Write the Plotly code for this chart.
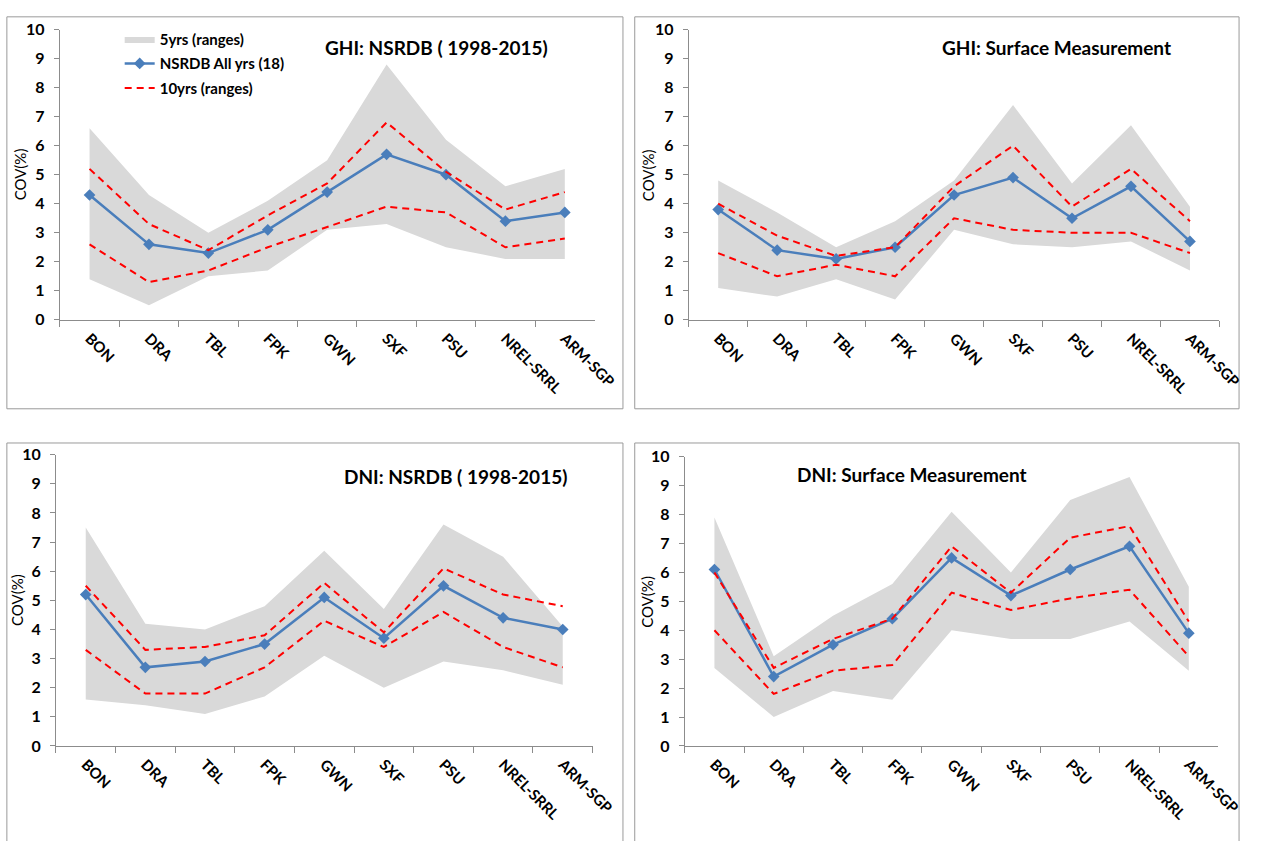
import plotly.graph_objects as go

stations = ["BON", "DRA", "TBL", "FPK", "GWN", "SXF", "PSU", "NREL-SRRL", "ARM-SGP"]

# GHI: NSRDB (1998-2015)
ghi_nsrdb_5yr_max = [6.6, 4.3, 3.0, 4.1, 5.5, 8.8, 6.2, 4.6, 5.2]
ghi_nsrdb_5yr_min = [1.4, 0.5, 1.5, 1.7, 3.1, 3.3, 2.5, 2.1, 2.1]
ghi_nsrdb_all = [4.3, 2.6, 2.3, 3.1, 4.4, 5.7, 5.0, 3.4, 3.7]
ghi_nsrdb_10yr_max = [5.2, 3.3, 2.4, 3.6, 4.7, 6.8, 5.1, 3.8, 4.4]
ghi_nsrdb_10yr_min = [2.6, 1.3, 1.7, 2.5, 3.2, 3.9, 3.7, 2.5, 2.8]

# GHI: Surface Measurement
ghi_surf_5yr_max = [4.8, 3.7, 2.5, 3.4, 4.8, 7.4, 4.7, 6.7, 3.9]
ghi_surf_5yr_min = [1.1, 0.8, 1.4, 0.7, 3.1, 2.6, 2.5, 2.7, 1.7]
ghi_surf_all = [3.8, 2.4, 2.1, 2.5, 4.3, 4.9, 3.5, 4.6, 2.7]
ghi_surf_10yr_max = [4.0, 2.9, 2.2, 2.5, 4.6, 6.0, 3.9, 5.2, 3.4]
ghi_surf_10yr_min = [2.3, 1.5, 1.9, 1.5, 3.5, 3.1, 3.0, 3.0, 2.3]

# DNI: NSRDB (1998-2015)
dni_nsrdb_5yr_max = [7.5, 4.2, 4.0, 4.8, 6.7, 4.7, 7.6, 6.5, 4.1]
dni_nsrdb_5yr_min = [1.6, 1.4, 1.1, 1.7, 3.1, 2.0, 2.9, 2.6, 2.1]
dni_nsrdb_all = [5.2, 2.7, 2.9, 3.5, 5.1, 3.7, 5.5, 4.4, 4.0]
dni_nsrdb_10yr_max = [5.5, 3.3, 3.4, 3.8, 5.6, 3.9, 6.1, 5.2, 4.8]
dni_nsrdb_10yr_min = [3.3, 1.8, 1.8, 2.7, 4.3, 3.4, 4.6, 3.4, 2.7]

# DNI: Surface Measurement
dni_surf_5yr_max = [7.9, 3.1, 4.5, 5.6, 8.1, 6.0, 8.5, 9.3, 5.5]
dni_surf_5yr_min = [2.7, 1.0, 1.9, 1.6, 4.0, 3.7, 3.7, 4.3, 2.6]
dni_surf_all = [6.1, 2.4, 3.5, 4.4, 6.5, 5.2, 6.1, 6.9, 3.9]
dni_surf_10yr_max = [6.0, 2.7, 3.7, 4.4, 6.9, 5.3, 7.2, 7.6, 4.3]
dni_surf_10yr_min = [4.0, 1.8, 2.6, 2.8, 5.3, 4.7, 5.1, 5.4, 3.1]

titles = ["GHI: NSRDB ( 1998-2015)", "GHI: Surface Measurement",
          "DNI: NSRDB ( 1998-2015)", "DNI: Surface Measurement"]
legend_names = ["5yrs (ranges)", "NSRDB All yrs (18)", "10yrs (ranges)"]
y_title = "COV(%)"

W, H = 1266, 841
FONT = "Lato"
GREY = "#d9d9d9"
BLUE = "#4a7ebb"
RED = "#ff0000"
AXIS = "#8c8c8c"


def fx(p):
    return p / W


def fy(p):
    return 1 - p / H


panels = [
    dict(data=(ghi_nsrdb_5yr_min, ghi_nsrdb_5yr_max, ghi_nsrdb_all, ghi_nsrdb_10yr_max, ghi_nsrdb_10yr_min),
         xd=(61, 606), yd=(20, 317), box=(7, 635, 7, 408), title_xy=(445, 38), ytitle_x=20),
    dict(data=(ghi_surf_5yr_min, ghi_surf_5yr_max, ghi_surf_all, ghi_surf_10yr_max, ghi_surf_10yr_min),
         xd=(702, 1243), yd=(20, 317), box=(647, 1263, 7, 408), title_xy=(1077, 38), ytitle_x=660),
    dict(data=(dni_nsrdb_5yr_min, dni_nsrdb_5yr_max, dni_nsrdb_all, dni_nsrdb_10yr_max, dni_nsrdb_10yr_min),
         xd=(57, 604), yd=(455, 753), box=(7, 635, 443, 860), title_xy=(464, 477), ytitle_x=18),
    dict(data=(dni_surf_5yr_min, dni_surf_5yr_max, dni_surf_all, dni_surf_10yr_max, dni_surf_10yr_min),
         xd=(698, 1242), yd=(457, 753), box=(647, 1263, 443, 860), title_xy=(930, 475), ytitle_x=660),
]

fig = go.Figure()
shapes = []
annotations = []
layout_axes = {}

for i, p in enumerate(panels):
    suf = "" if i == 0 else str(i + 1)
    xa, ya = "x" + suf, "y" + suf
    lo5, hi5, allv, hi10, lo10 = p["data"]
    first = i == 0

    fig.add_trace(go.Scatter(x=stations, y=lo5, mode="lines", line=dict(width=0, color="rgba(0,0,0,0)"),
                             showlegend=False, hoverinfo="skip", xaxis=xa, yaxis=ya))
    fig.add_trace(go.Scatter(x=stations, y=hi5, mode="lines", fill="tonexty", fillcolor=GREY,
                             line=dict(width=0, color=GREY), name=legend_names[0], legendgroup="a",
                             showlegend=first, xaxis=xa, yaxis=ya))
    fig.add_trace(go.Scatter(x=stations, y=allv, mode="lines+markers",
                             line=dict(width=2.5, color=BLUE),
                             marker=dict(symbol="diamond", size=9, color=BLUE),
                             name=legend_names[1], legendgroup="b", showlegend=first, xaxis=xa, yaxis=ya))
    fig.add_trace(go.Scatter(x=stations, y=hi10, mode="lines", line=dict(width=2, color=RED, dash="7px,5px"),
                             name=legend_names[2], legendgroup="c", showlegend=first, xaxis=xa, yaxis=ya))
    fig.add_trace(go.Scatter(x=stations, y=lo10, mode="lines", line=dict(width=2, color=RED, dash="7px,5px"),
                             showlegend=False, legendgroup="c", xaxis=xa, yaxis=ya))

    layout_axes["xaxis" + suf] = dict(
        domain=[fx(p["xd"][0]), fx(p["xd"][1])], anchor=ya, type="category",
        categoryorder="array", categoryarray=stations, range=[-0.5, 8.5],
        showline=True, linecolor=AXIS, linewidth=1, ticks="outside", tickson="boundaries",
        ticklen=6, tickcolor=AXIS, tickangle=45, showgrid=False, zeroline=False,
        ticklabelstandoff=3,
        tickfont=dict(family=FONT, size=15, color="black", weight="bold"))
    layout_axes["yaxis" + suf] = dict(
        domain=[fy(p["yd"][1]), fy(p["yd"][0])], anchor=xa, range=[0, 10], dtick=1,
        showline=True, linecolor=AXIS, linewidth=1, ticks="outside", ticklen=5, tickcolor=AXIS,
        showgrid=False, zeroline=False, ticklabelstandoff=6,
        tickfont=dict(family=FONT, size=16, color="black", weight="bold"))

    bx0, bx1, by0, by1 = p["box"]
    shapes.append(dict(type="rect", xref="paper", yref="paper", x0=fx(bx0), x1=fx(bx1), y0=fy(by1), y1=fy(by0),
                       line=dict(color="#9a9a9a", width=1), fillcolor="rgba(0,0,0,0)", layer="below"))
    tx, ty = p["title_xy"]
    annotations.append(dict(text=titles[i], xref="paper", yref="paper", x=fx(tx), y=fy(ty),
                            xanchor="center", yanchor="middle", showarrow=False,
                            font=dict(family=FONT, size=19, color="black", weight="bold")))
    ymid = (p["yd"][0] + p["yd"][1]) / 2
    annotations.append(dict(text=y_title, xref="paper", yref="paper", x=fx(p["ytitle_x"]), y=fy(ymid),
                            xanchor="center", yanchor="middle", showarrow=False, textangle=-90,
                            font=dict(family=FONT, size=15, color="black")))

fig.update_layout(
    width=W, height=H, margin=dict(l=0, r=0, t=0, b=0),
    paper_bgcolor="white", plot_bgcolor="white",
    showlegend=True,
    legend=dict(x=fx(122), y=fy(13), xanchor="left", yanchor="top", bgcolor="rgba(0,0,0,0)",
                traceorder="grouped", tracegroupgap=2, itemwidth=30,
                font=dict(family=FONT, size=15, color="black", weight="bold")),
    shapes=shapes, annotations=annotations, **layout_axes)

fig.write_html("out.html")
